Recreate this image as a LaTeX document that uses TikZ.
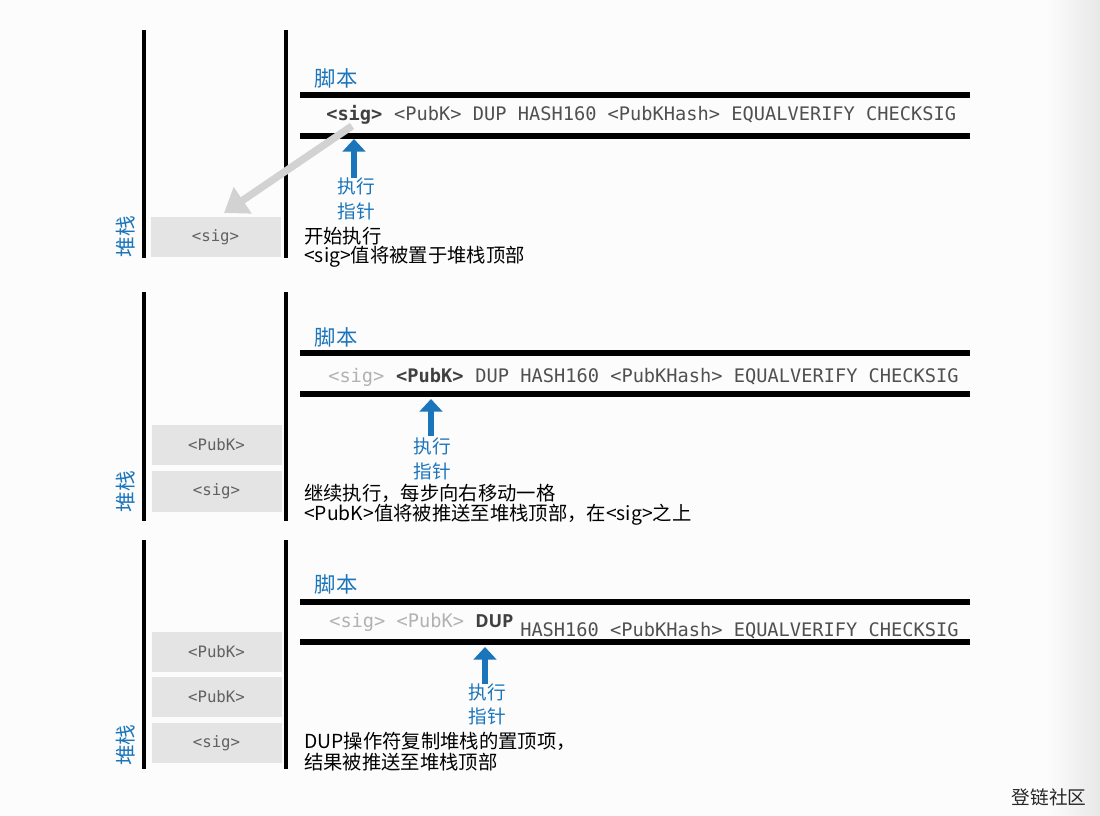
\documentclass[tikz,border=0pt]{standalone}
\usepackage{fontspec}
\setmainfont{Noto Sans CJK SC}
\newfontfamily\mono{DejaVu Sans Mono}
\newfontfamily\dupfont{Open Sans}
\usetikzlibrary{arrows.meta}
\definecolor{myblue}{HTML}{1B75BB}
\definecolor{stackgray}{HTML}{E4E4E4}
\definecolor{codegray}{HTML}{505050}
\definecolor{fadegray}{HTML}{B2B2B2}
\definecolor{pushgray}{HTML}{D2D2D2}
\tikzset{
  vbar/.style={line width=3pt, black},
  hbar/.style={line width=3.8pt, black},
  stackbox/.style={fill=stackgray, minimum width=97.5pt, minimum height=30.5pt, inner sep=0pt,
     font=\mono\fontsize{11.8pt}{13pt}\selectfont, text=codegray!90},
  code/.style={anchor=base west, inner sep=0pt, font=\mono\fontsize{14pt}{16pt}\selectfont, text=codegray},
  scripttitle/.style={text=myblue, font=\fontsize{16pt}{18pt}\selectfont, inner sep=0pt},
  stacktitle/.style={text=myblue, font=\fontsize{15.5pt}{17pt}\selectfont, inner sep=0pt, rotate=90},
  ptrlabel/.style={text=myblue, font=\fontsize{14pt}{18.5pt}\selectfont, align=center, inner sep=0pt},
  note/.style={anchor=west, inner sep=0pt, font=\fontsize{14.5pt}{16pt}\selectfont, text=black},
  ptr/.style={line width=5pt, myblue, -{Triangle[length=9.5pt, width=17pt]}},
  push/.style={line width=5.5pt, pushgray, -{Triangle[length=17pt, width=23pt]}},
}
\begin{document}
\begin{tikzpicture}[x=0.75pt, y=-0.75pt]
\useasboundingbox (0,0) rectangle (1100,816);
\fill[white!99!black] (0,0) rectangle (1100,816);
\shade[left color=white!99!black, right color=black!9] (1045,0) rectangle (1100,816);

% ---------------- Panel 1 ----------------
\draw[vbar] (144,30) -- (144,258);
\draw[vbar] (286,30) -- (286,258);
\node[stacktitle] (st1) at (126,237) {堆栈};
\node[stackbox] (b1a) at (215.5,237) {<sig>};
\node[scripttitle] (sc1) at (336,78) {脚本};
\draw[hbar] (300,95) -- (970,95);
\draw[hbar] (300,136) -- (970,136);
\node[code] (c1a) at (326,120.5) {\textcolor{codegray!80!black}{\bfseries <sig>}};
\node[code] (c1b) at (c1a.base east) {\ <PubK> DUP HASH160 <PubKHash> EQUALVERIFY CHECKSIG};
\coordinate (a1s) at (354,178);
\coordinate (a1e) at (354,139);
\draw[ptr] (a1s) -- (a1e);
\node[ptrlabel] (p1) at (356,199) {执行\\指针};
\coordinate (g1s) at (352,126);
\coordinate (g1e) at (224,213);
\draw[push] (g1s) -- (g1e);
\node[note] (n1a) at (304,236) {开始执行};
\node[note] (n1b) at (304,257) {<sig>值将被置于堆栈顶部};

% ---------------- Panel 2 ----------------
\draw[vbar] (144,292) -- (144,521);
\draw[vbar] (286,292) -- (286,521);
\node[stacktitle] (st2) at (126,492) {堆栈};
\node[stackbox] (b2b) at (216.5,445) {<PubK>};
\node[stackbox] (b2a) at (216.5,491.5) {<sig>};
\node[scripttitle] (sc2) at (336,337) {脚本};
\draw[hbar] (300,353) -- (970,353);
\draw[hbar] (300,394) -- (970,394);
\node[code, text=fadegray] (c2a) at (328,382.5) {<sig>};
\node[code] (c2b) at (c2a.base east) {\ \textcolor{codegray!80!black}{\bfseries <PubK>}};
\node[code] (c2c) at (c2b.base east) {\ DUP HASH160 <PubKHash> EQUALVERIFY CHECKSIG};
\coordinate (a2s) at (431,436);
\coordinate (a2e) at (431,399);
\draw[ptr] (a2s) -- (a2e);
\node[ptrlabel] (p2) at (432,459) {执行\\指针};
\node[note] (n2a) at (304,493) {继续执行，每步向右移动一格};
\node[note] (n2b) at (304,515) {<PubK>值将被推送至堆栈顶部，在<sig>之上};

% ---------------- Panel 3 ----------------
\draw[vbar] (144,540) -- (144,769);
\draw[vbar] (286,540) -- (286,769);
\node[stacktitle] (st3) at (126,745) {堆栈};
\node[stackbox] (b3c) at (216.5,652) {<PubK>};
\node[stackbox] (b3b) at (216.5,697) {<PubK>};
\node[stackbox] (b3a) at (216.5,743) {<sig>};
\node[scripttitle] (sc3) at (336,584) {脚本};
\draw[hbar] (300,602) -- (970,602);
\draw[hbar] (300,642) -- (970,642);
\node[code, text=fadegray] (c3a) at (329,627.5) {<sig> <PubK>};
\node[code, font=\dupfont\bfseries\fontsize{13.5pt}{16pt}\selectfont] (c3b) at (475,627.5) {\textcolor{codegray!80!black}{DUP}};
\node[code] (c3c) at (520,636) {HASH160 <PubKHash> EQUALVERIFY CHECKSIG};
\coordinate (a3s) at (485,684);
\coordinate (a3e) at (485,647);
\draw[ptr] (a3s) -- (a3e);
\node[ptrlabel] (p3) at (487,704.5) {执行\\指针};
\node[note] (n3a) at (304,741) {DUP操作符复制堆栈的置顶项，};
\node[note] (n3b) at (304,762) {结果被推送至堆栈顶部};

% watermark
\node[inner sep=0pt, font=\fontsize{14pt}{16pt}\selectfont, text=black!85] (wm) at (1049,797) {登链社区};
\end{tikzpicture}
\end{document}
